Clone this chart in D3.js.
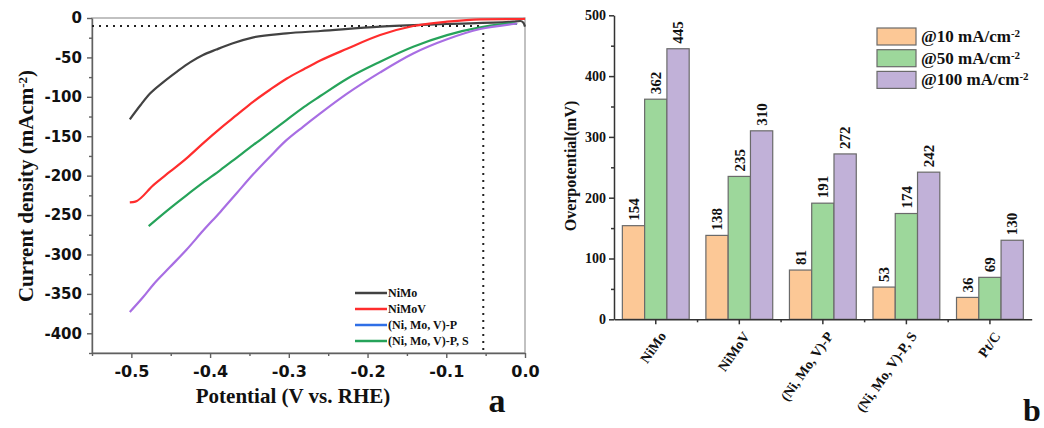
<!DOCTYPE html>
<html>
<head>
<meta charset="utf-8">
<script src="https://cdn.jsdelivr.net/npm/d3@7"></script>
<style>
  body { margin: 0; background: #fff; }
  svg { display: block; }
  .serif { font-family: "Liberation Serif", "Times New Roman", serif; font-weight: bold; fill: #111; }
  .sans { font-family: "DejaVu Sans", Arial, sans-serif; font-weight: bold; fill: #111; }
</style>
</head>
<body>
<script>
// ---- panel a: polarisation curves [potential V, current mA/cm2]
const niMo = [[-0.502,-128.6],[-0.488,-110],[-0.476,-95.6],[-0.459,-81],[-0.442,-68],[-0.425,-56],
  [-0.409,-47],[-0.392,-40],[-0.371,-32],[-0.345,-24.5],[-0.303,-19.5],[-0.26,-16.5],
  [-0.184,-11],[-0.099,-7.6],[-0.015,-4.7],[-0.006,-3.8],[-0.002,-6],[0,-11]];
const niMoV = [[-0.502,-234],[-0.495,-233],[-0.472,-212],[-0.451,-195],[-0.43,-178],[-0.409,-159],
  [-0.387,-140],[-0.366,-123],[-0.345,-106],[-0.324,-91],[-0.303,-77],[-0.281,-65],[-0.26,-54],
  [-0.226,-39],[-0.184,-21.6],[-0.142,-10.2],[-0.099,-4.7],[-0.057,-1.7],[-0.006,-1.3],[0,-1]];
const niMoVP = [[-0.478,-264],[-0.451,-241.5],[-0.43,-225],[-0.409,-209],[-0.387,-193],[-0.366,-177],
  [-0.345,-161],[-0.324,-145.5],[-0.303,-129.5],[-0.281,-113],[-0.26,-99],[-0.226,-77],[-0.184,-55.5],
  [-0.142,-36.5],[-0.099,-21.7],[-0.057,-11.9],[-0.015,-6.8],[-0.01,-7.6]];
const niMoVPS = [[-0.502,-373],[-0.485,-354],[-0.472,-338],[-0.451,-316],[-0.43,-294],[-0.409,-270],
  [-0.387,-246],[-0.366,-222],[-0.345,-198],[-0.324,-176],[-0.303,-155],[-0.282,-138],[-0.26,-121],
  [-0.226,-96],[-0.184,-69],[-0.142,-45],[-0.099,-27],[-0.057,-14],[-0.015,-7.6],[-0.01,-7]];
const curves = [
  { data: niMo, color: '#424242' },
  { data: niMoV, color: '#ff2d2d' },
  { data: niMoVP, color: '#26a35a' },
  { data: niMoVPS, color: '#a86ee3' }
];
const legendNamesA = ['NiMo', 'NiMoV', '(Ni, Mo, V)-P', '(Ni, Mo, V)-P, S'];
const legendColorsA = ['#424242', '#ff2d2d', '#2f6fe6', '#26a35a'];
const refCurrent = -10;
const refPotential = -0.053;
const xTicksA = [-0.5, -0.4, -0.3, -0.2, -0.1, 0];
const xMinorA = [-0.55, -0.45, -0.35, -0.25, -0.15, -0.05];
const yTicksA = [0, -50, -100, -150, -200, -250, -300, -350, -400];
const yMinorA = [-25, -75, -125, -175, -225, -275, -325, -375, -425];

// ---- panel b: overpotentials (mV)
const categories = ['NiMo', 'NiMoV', '(Ni, Mo, V)-P', '(Ni, Mo, V)-P, S', 'Pt/C'];
const eta10 = [154, 138, 81, 53, 36];
const eta50 = [362, 235, 191, 174, 69];
const eta100 = [445, 310, 272, 242, 130];
const seriesLabels = ['@10 mA/cm', '@50 mA/cm', '@100 mA/cm'];
const seriesColors = ['#fcc896', '#9dd79b', '#c1b1d8'];
const yTicksB = [0, 100, 200, 300, 400, 500];
const yMinorB = [50, 150, 250, 350, 450];

const width = 1044, height = 428;
const svg = d3.select('body').append('svg').attr('width', width).attr('height', height);

// ================= panel a
const A = { left: 92, right: 525, top: 18, bottom: 353 };
const x = d3.scaleLinear().domain([-0.55, 0]).range([A.left, A.right]);
const y = d3.scaleLinear().domain([-425, 0]).range([A.bottom, A.top]);

const ga = svg.append('g');
ga.append('rect')
    .attr('x', A.left).attr('y', A.top)
    .attr('width', A.right - A.left).attr('height', A.bottom - A.top)
    .attr('fill', 'none').attr('stroke', '#a0a0a0').attr('stroke-width', 1.3);

const styleAxis = (g, color, w) => {
  g.selectAll('.domain').attr('stroke', color).attr('stroke-width', w);
  g.selectAll('.tick line').attr('stroke', color).attr('stroke-width', w);
};

const xAxisA = ga.append('g')
    .attr('transform', `translate(0,${A.bottom})`)
    .call(d3.axisBottom(x).tickValues(xTicksA).tickFormat(d => d.toFixed(1)).tickSize(5).tickSizeOuter(0).tickPadding(8));
xAxisA.call(styleAxis, '#606060', 1.4);
xAxisA.selectAll('text').attr('class', 'sans').style('font-size', '16px');
ga.append('g')
    .attr('transform', `translate(0,${A.bottom})`)
    .call(d3.axisBottom(x).tickValues(xMinorA).tickFormat('').tickSize(3))
    .call(g => g.select('.domain').remove())
    .call(styleAxis, '#606060', 1.4);

const yAxisA = ga.append('g')
    .attr('transform', `translate(${A.left},0)`)
    .call(d3.axisLeft(y).tickValues(yTicksA).tickFormat(d => String(d)).tickSize(5).tickSizeOuter(0).tickPadding(5));
yAxisA.call(styleAxis, '#606060', 1.4);
yAxisA.selectAll('text').attr('class', 'sans').style('font-size', '15px');
ga.append('g')
    .attr('transform', `translate(${A.left},0)`)
    .call(d3.axisLeft(y).tickValues(yMinorA).tickFormat('').tickSize(3))
    .call(g => g.select('.domain').remove())
    .call(styleAxis, '#606060', 1.4);

// reference dotted lines
ga.append('line')
    .attr('x1', x(-0.55)).attr('x2', x(refPotential))
    .attr('y1', y(refCurrent)).attr('y2', y(refCurrent))
    .attr('stroke', '#222').attr('stroke-width', 2).attr('stroke-dasharray', '2,5');
ga.append('line')
    .attr('x1', x(refPotential)).attr('x2', x(refPotential))
    .attr('y1', y(refCurrent)).attr('y2', y(-425))
    .attr('stroke', '#222').attr('stroke-width', 2).attr('stroke-dasharray', '2,5');

const line = d3.line()
    .x(d => x(d[0]))
    .y(d => y(d[1]))
    .curve(d3.curveMonotoneX);

ga.selectAll('.curve')
  .data(curves)
  .enter().append('path')
    .attr('class', 'curve')
    .attr('d', d => line(d.data))
    .attr('fill', 'none')
    .attr('stroke', d => d.color)
    .attr('stroke-width', 2.2)
    .attr('stroke-linejoin', 'round');

// legend a
const legA = ga.append('g').attr('transform', 'translate(355,293)');
legendNamesA.forEach((name, i) => {
  const row = legA.append('g').attr('transform', `translate(0,${i * 16})`);
  row.append('line').attr('x1', 0).attr('x2', 32).attr('y1', 0).attr('y2', 0)
      .attr('stroke', legendColorsA[i]).attr('stroke-width', 2.5);
  row.append('text').attr('class', 'serif').attr('x', 33).attr('y', 4)
      .style('font-size', '12px').text(name);
});

// axis titles a
const yTitleA = ga.append('text').attr('class', 'serif')
    .attr('transform', 'translate(33,186) rotate(-90)')
    .attr('text-anchor', 'middle')
    .style('font-size', '21px');
yTitleA.append('tspan').text('Current density (mAcm');
yTitleA.append('tspan').attr('dy', '-0.5em').style('font-size', '13px').text('-2');
yTitleA.append('tspan').attr('dy', '0.32em').text(')');

ga.append('text').attr('class', 'serif')
    .attr('x', 293).attr('y', 403).attr('text-anchor', 'middle')
    .style('font-size', '21px').text('Potential (V vs. RHE)');
ga.append('text').attr('class', 'serif')
    .attr('x', 497).attr('y', 412).attr('text-anchor', 'middle')
    .style('font-size', '34px').text('a');

// ================= panel b
const B = { left: 614, right: 1031.7, top: 15.3, bottom: 319.3 };
const x0 = d3.scaleBand().domain(categories).range([B.left, B.right]).paddingInner(0.2).paddingOuter(0.1);
const seriesKeys = [0, 1, 2];
const x1 = d3.scaleBand().domain(seriesKeys).range([0, x0.bandwidth()]);
const y2 = d3.scaleLinear().domain([0, 500]).range([B.bottom, B.top]);
const seriesValues = [eta10, eta50, eta100];

const gb = svg.append('g');

const bars = [];
categories.forEach((c, ci) => {
  seriesKeys.forEach(k => bars.push({ c, k, v: seriesValues[k][ci] }));
});

gb.selectAll('.bar')
  .data(bars)
  .enter().append('rect')
    .attr('class', 'bar')
    .attr('x', d => x0(d.c) + x1(d.k))
    .attr('y', d => y2(d.v))
    .attr('width', x1.bandwidth())
    .attr('height', d => y2(0) - y2(d.v))
    .attr('fill', d => seriesColors[d.k])
    .attr('stroke', '#6a6a6a')
    .attr('stroke-width', 1.2);

gb.selectAll('.val')
  .data(bars)
  .enter().append('text')
    .attr('class', 'serif')
    .attr('transform', d => `translate(${x0(d.c) + x1(d.k) + x1.bandwidth() / 2},${y2(d.v) - 5}) rotate(-90)`)
    .attr('dy', '0.35em')
    .style('font-size', '15px')
    .text(d => d.v);

const yAxisB = gb.append('g')
    .attr('transform', `translate(${B.left},0)`)
    .call(d3.axisLeft(y2).tickValues(yTicksB).tickSize(5).tickSizeOuter(0).tickPadding(3));
yAxisB.call(styleAxis, '#333', 1.5);
yAxisB.selectAll('text').attr('class', 'serif').style('font-size', '14px');
gb.append('g')
    .attr('transform', `translate(${B.left},0)`)
    .call(d3.axisLeft(y2).tickValues(yMinorB).tickFormat('').tickSize(3))
    .call(g => g.select('.domain').remove())
    .call(styleAxis, '#333', 1.5);

const xAxisB = gb.append('g')
    .attr('transform', `translate(0,${B.bottom})`)
    .call(d3.axisBottom(x0).tickFormat('').tickSize(5).tickSizeOuter(0));
xAxisB.call(styleAxis, '#333', 1.5);
const boundaries = categories.slice(1).map(c => x0(c) - x0.step() * x0.paddingInner() / 2);
gb.selectAll('.minorB')
  .data(boundaries)
  .enter().append('line')
    .attr('x1', d => d).attr('x2', d => d)
    .attr('y1', B.bottom).attr('y2', B.bottom + 3)
    .attr('stroke', '#333').attr('stroke-width', 1.5);

gb.selectAll('.cat')
  .data(categories)
  .enter().append('text')
    .attr('class', 'serif')
    .attr('text-anchor', 'end')
    .attr('transform', c => `translate(${x0(c) + x0.bandwidth() / 2 + 7},${B.bottom + 14}) rotate(-55)`)
    .attr('dy', '0.35em')
    .style('font-size', '14px')
    .text(c => c);

gb.append('text').attr('class', 'serif')
    .attr('transform', 'translate(576,166) rotate(-90)')
    .attr('text-anchor', 'middle')
    .style('font-size', '16px')
    .text('Overpotential(mV)');

// legend b
const legB = gb.append('g').attr('transform', 'translate(877,28)');
seriesLabels.forEach((lab, i) => {
  const row = legB.append('g').attr('transform', `translate(0,${i * 21.7})`);
  row.append('rect').attr('width', 39).attr('height', 17)
      .attr('fill', seriesColors[i]).attr('stroke', '#6a6a6a').attr('stroke-width', 1.2);
  const t = row.append('text').attr('class', 'serif').attr('x', 44).attr('y', 14)
      .style('font-size', '17px');
  t.append('tspan').text(lab);
  t.append('tspan').attr('dy', '-0.45em').style('font-size', '11px').text('-2');
});

gb.append('text').attr('class', 'serif')
    .attr('x', 1032).attr('y', 421).attr('text-anchor', 'middle')
    .style('font-size', '32px').text('b');
</script>
</body>
</html>
